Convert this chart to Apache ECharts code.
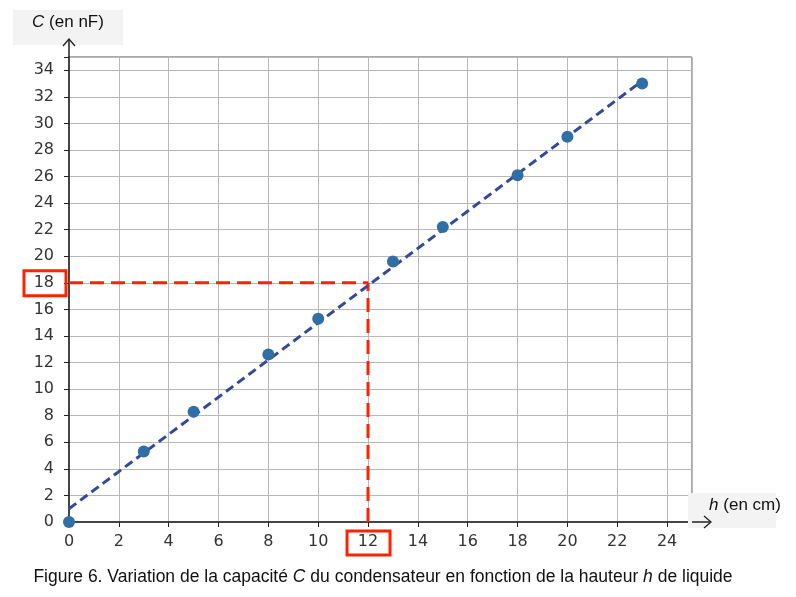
<!DOCTYPE html>
<html><head><meta charset="utf-8">
<script src="https://cdn.jsdelivr.net/npm/echarts@6/dist/echarts.min.js"></script>
<style>html,body{margin:0;padding:0;background:#fff}#c{width:796px;height:597px}</style>
</head><body><div id="c"></div>
<script>
const hValues = [0, 3, 5, 8, 10, 13, 15, 18, 20, 23];
const cValues = [0, 5.3, 8.3, 12.6, 15.3, 19.6, 22.2, 26.1, 29.0, 33.0];
const fitLine = [[0, 1.0], [23, 33.2]];
const readH = 12, readC = 18;
const xTicks = [0,2,4,6,8,10,12,14,16,18,20,22,24];
const yTicks = [0,2,4,6,8,10,12,14,16,18,20,22,24,26,28,30,32,34];

const chart = echarts.init(document.getElementById('c'));
const font = 'DejaVu Sans';
chart.setOption({
  animation: false,
  grid: {left: 69, top: 57, right: 104, bottom: 75, show: true, borderColor: '#555', borderWidth: 1, backgroundColor: 'transparent'},
  xAxis: {type: 'value', min: 0, max: 25, interval: 2,
    axisLine: {show: true, onZero: false, lineStyle: {color: '#222', width: 1.5}},
    axisTick: {show: true, length: 5, lineStyle: {color: '#222'}},
    axisLabel: {fontFamily: font, fontSize: 16, color: '#333', margin: 12,
      formatter: v => xTicks.includes(v) ? String(v) : ''},
    splitLine: {show: true, lineStyle: {color: '#b8b8b8', width: 1}}},
  yAxis: {type: 'value', min: 0, max: 35, interval: 2,
    axisLine: {show: true, onZero: false, lineStyle: {color: '#222', width: 1.5}},
    axisTick: {show: true, length: 5, lineStyle: {color: '#222'}},
    axisLabel: {fontFamily: font, fontSize: 16, color: '#333', margin: 15,
      formatter: v => yTicks.includes(v) ? String(v) : ''},
    splitLine: {show: true, lineStyle: {color: '#b8b8b8', width: 1}}},
  series: [
    {type: 'line', data: [[0, readC], [readH, readC]], symbol: 'none', z: 3,
      lineStyle: {color: '#ff2200', width: 3, type: [14, 7]}},
    {type: 'line', data: [[readH, 0], [readH, readC]], symbol: 'none', z: 3,
      lineStyle: {color: '#ff2200', width: 3, type: [14, 7]}},
    {type: 'line', data: fitLine, symbol: 'none', z: 4,
      lineStyle: {color: '#34499a', width: 3, type: [9, 5]}},
    {type: 'scatter', data: hValues.map((h, i) => [h, cValues[i]]), symbolSize: 12, z: 5,
      itemStyle: {color: '#2f6fa5', opacity: 1}}
  ]
});

function px(x, y) { return chart.convertToPixel({gridIndex: 0}, [x, y]); }
const o = px(0, 0), yTop = px(0, 35), xRight = px(25, 0);
const p18 = px(0, readC), p12 = px(readH, 0);
const ital = {fontStyle: 'italic', fontFamily: 'Liberation Sans', fontSize: 17, fill: '#111'};
chart.setOption({
  graphic: [
    {type: 'line', shape: {x1: o[0], y1: yTop[1], x2: o[0], y2: yTop[1] - 18}, style: {stroke: '#222', lineWidth: 1.5}, z: 10},
    {type: 'polyline', shape: {points: [[o[0] - 6, yTop[1] - 11], [o[0], yTop[1] - 18], [o[0] + 6, yTop[1] - 11]]}, style: {stroke: '#222', lineWidth: 1.3, fill: null}, z: 10},
    {type: 'line', shape: {x1: xRight[0], y1: o[1], x2: xRight[0] + 19, y2: o[1]}, style: {stroke: '#222', lineWidth: 1.5}, z: 10},
    {type: 'polyline', shape: {points: [[xRight[0] + 12, o[1] - 6], [xRight[0] + 19, o[1]], [xRight[0] + 12, o[1] + 6]]}, style: {stroke: '#222', lineWidth: 1.3, fill: null}, z: 10},
    {type: 'rect', shape: {x: 13, y: 10, width: 110, height: 35}, style: {fill: '#f3f3f3'}, z: 1},
    {type: 'text', x: 68, y: 22, style: {text: '{i|C} (en nF)', rich: {i: ital}, fontFamily: 'Liberation Sans', fontSize: 17, fill: '#111', align: 'center', verticalAlign: 'middle'}, z: 11},
    {type: 'rect', shape: {x: 688, y: 493, width: 88, height: 35}, style: {fill: '#f3f3f3'}, z: 1},
    {type: 'text', x: 745, y: 505, style: {text: '{i|h} (en cm)', rich: {i: ital}, fontFamily: 'Liberation Sans', fontSize: 17, fill: '#111', align: 'center', verticalAlign: 'middle'}, z: 11},
    {type: 'rect', shape: {x: 24, y: p18[1] - 12, width: 42, height: 25}, style: {stroke: '#ff2200', lineWidth: 3, fill: null}, z: 12},
    {type: 'rect', shape: {x: p12[0] - 21, y: 531, width: 43, height: 24}, style: {stroke: '#ff2200', lineWidth: 3, fill: null}, z: 12},
    {type: 'text', x: 383, y: 577, style: {text: 'Figure 6. Variation de la capacité {i|C} du condensateur en fonction de la hauteur {i|h} de liquide', rich: {i: Object.assign({}, ital, {fontSize: 17.5})}, fontFamily: 'Liberation Sans', fontSize: 17.5, fill: '#111', align: 'center', verticalAlign: 'middle'}, z: 11}
  ]
});
</script></body></html>
